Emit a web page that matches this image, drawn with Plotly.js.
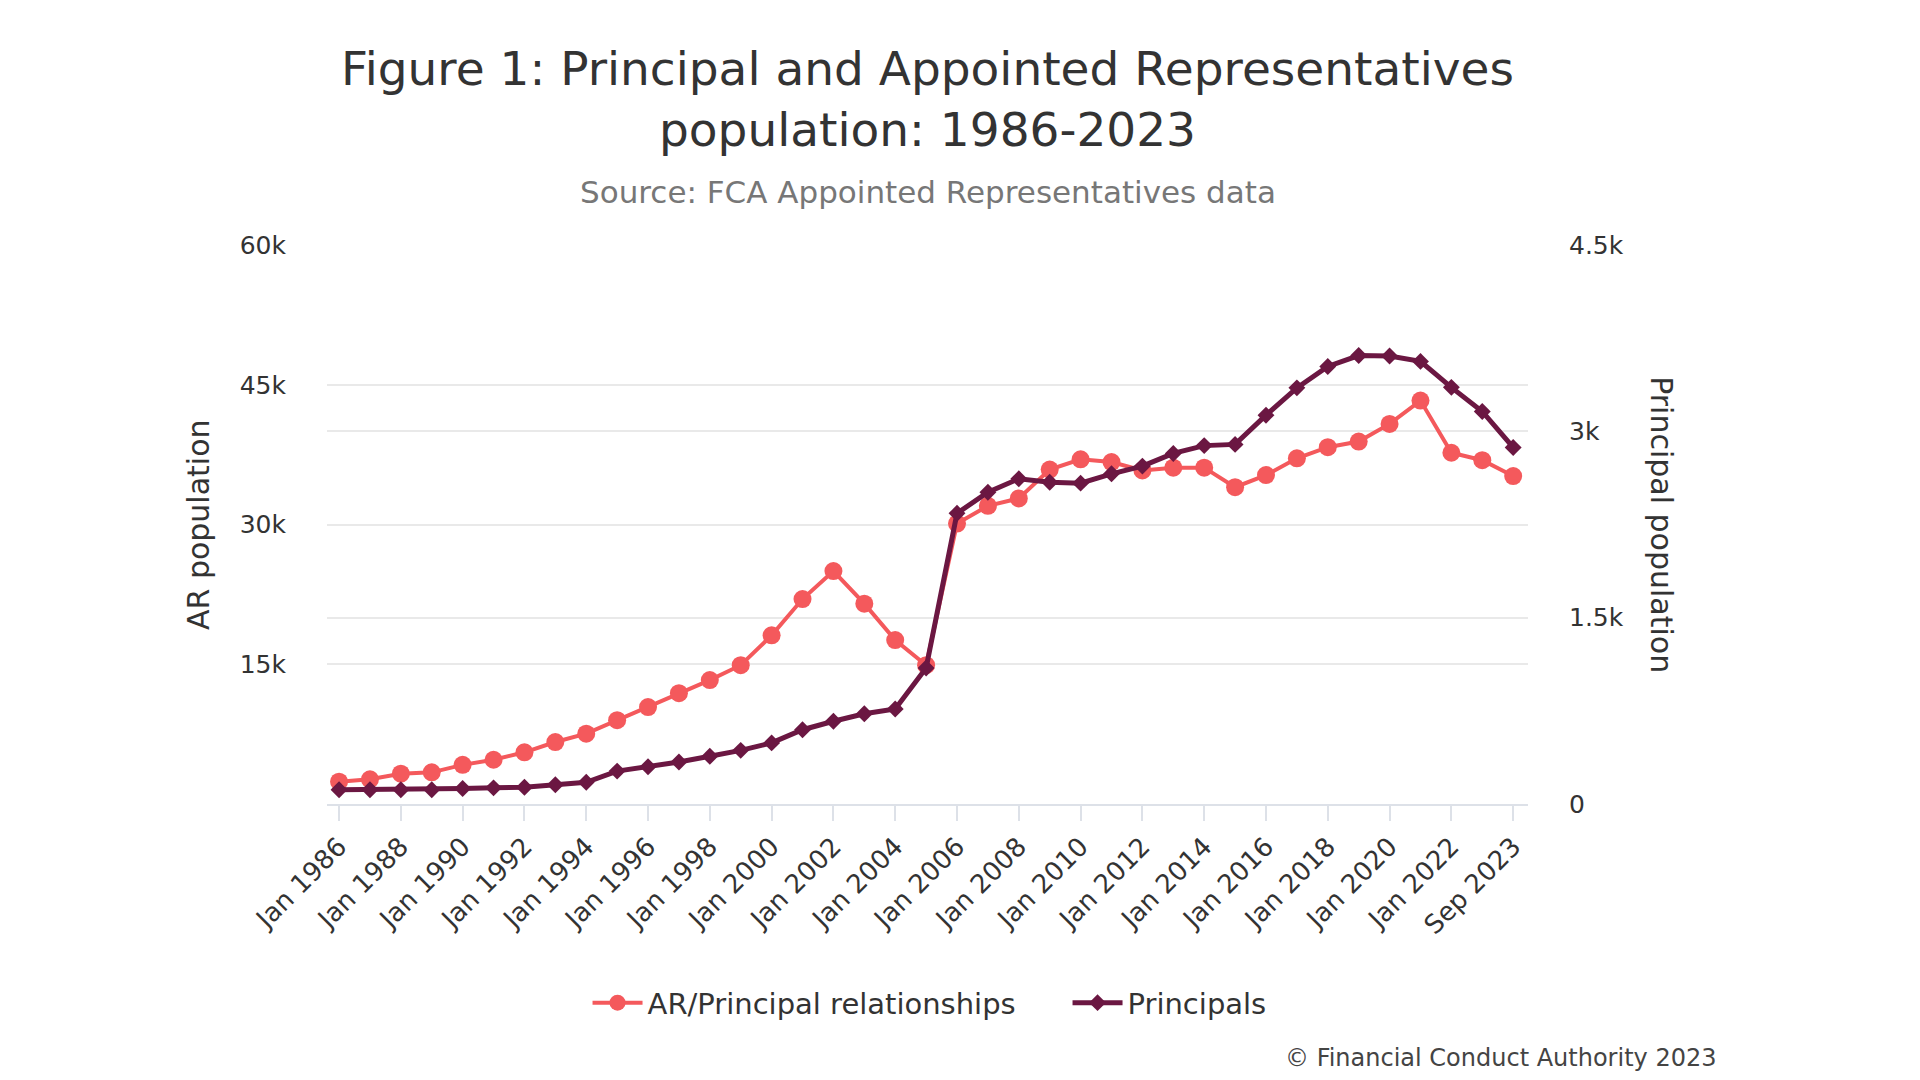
<!DOCTYPE html>
<html>
<head>
<meta charset="utf-8">
<script src="https://cdn.plot.ly/plotly-3.0.1.min.js"></script>
<style>
  html, body { margin: 0; padding: 0; background: #fff; }
  #chart { width: 1920px; height: 1080px; }
</style>
</head>
<body>
<div id="chart"></div>
<script>
var months = ['Jan 1986', 'Jan 1987', 'Jan 1988', 'Jan 1989', 'Jan 1990', 'Jan 1991', 'Jan 1992',
  'Jan 1993', 'Jan 1994', 'Jan 1995', 'Jan 1996', 'Jan 1997', 'Jan 1998', 'Jan 1999', 'Jan 2000',
  'Jan 2001', 'Jan 2002', 'Jan 2003', 'Jan 2004', 'Jan 2005', 'Jan 2006', 'Jan 2007', 'Jan 2008',
  'Jan 2009', 'Jan 2010', 'Jan 2011', 'Jan 2012', 'Jan 2013', 'Jan 2014', 'Jan 2015', 'Jan 2016',
  'Jan 2017', 'Jan 2018', 'Jan 2019', 'Jan 2020', 'Jan 2021', 'Jan 2022', 'Jan 2023', 'Sep 2023'];

// AR/Principal relationships (left axis)
var arRelationships = [2400, 2650, 3250, 3400, 4200, 4750, 5550, 6650, 7550, 9000,
  10400, 11900, 13300, 14900, 18100, 22000, 25000, 21500, 17600, 14900,
  30100, 32000, 32800, 35900, 37000, 36700, 35800, 36100, 36100, 34000,
  35300, 37100, 38300, 38900, 40800, 43300, 37700, 36900, 35200];

// Principals (right axis)
var principals = [115, 115, 115, 115, 125, 130, 135, 155, 175, 265,
  300, 338, 384, 432, 492, 598, 666, 726, 765, 1095,
  2340, 2510, 2618, 2590, 2583, 2658, 2720, 2822, 2885, 2895,
  3130, 3350, 3522, 3610, 3606, 3563, 3354, 3160, 2870];

var xTicks = ['Jan 1986', 'Jan 1988', 'Jan 1990', 'Jan 1992', 'Jan 1994', 'Jan 1996', 'Jan 1998',
  'Jan 2000', 'Jan 2002', 'Jan 2004', 'Jan 2006', 'Jan 2008', 'Jan 2010', 'Jan 2012', 'Jan 2014',
  'Jan 2016', 'Jan 2018', 'Jan 2020', 'Jan 2022', 'Sep 2023'];
var arTicks = [15000, 30000, 45000, 60000];
var arTickText = ['15k', '30k', '45k', '60k'];
var prTicks = [0, 1500, 3000, 4500];
var prTickText = ['0', '1.5k', '3k', '4.5k'];

var FONT = 'DejaVu Sans, Verdana, sans-serif';
var RED = '#F4595C';
var PLUM = '#6B1742';
var GRID = '#e9e9e9';

var data = [
  {
    x: months,
    y: arRelationships,
    name: 'AR/Principal relationships',
    type: 'scatter',
    mode: 'lines+markers',
    line: {color: RED, width: 4},
    marker: {color: RED, size: 18, symbol: 'circle'},
    yaxis: 'y'
  },
  {
    x: months,
    y: principals,
    name: 'Principals',
    type: 'scatter',
    mode: 'lines+markers',
    line: {color: PLUM, width: 5},
    marker: {color: PLUM, size: 13, symbol: 'diamond'},
    yaxis: 'y2'
  }
];

var layout = {
  width: 1920,
  height: 1080,
  paper_bgcolor: '#fff',
  plot_bgcolor: '#fff',
  font: {family: FONT, color: '#333'},
  showlegend: true,
  margin: {l: 327, r: 392, t: 245, b: 276, pad: 0},
  title: {
    text: 'Figure 1: Principal and Appointed Representatives<br>population: 1986-2023',
    font: {family: FONT, size: 47, color: '#333'},
    xref: 'paper',
    x: 0.5,
    xanchor: 'center',
    yref: 'container',
    y: 0.921,
    yanchor: 'middle'
  },
  xaxis: {
    type: 'category',
    range: [-0.39, 38.48],
    tickmode: 'array',
    tickvals: xTicks,
    ticktext: xTicks,
    tickangle: -45,
    ticks: 'outside',
    ticklen: 15,
    tickwidth: 2,
    tickcolor: '#dde1e8',
    showline: true,
    linecolor: '#dde1e8',
    linewidth: 2,
    showgrid: false,
    zeroline: false,
    tickfont: {family: FONT, size: 26, color: '#333'},
    automargin: false
  },
  yaxis: {
    range: [0, 60000],
    tickmode: 'array',
    tickvals: arTicks,
    ticktext: arTickText,
    showgrid: true,
    gridcolor: GRID,
    gridwidth: 2,
    zeroline: false,
    showline: false,
    ticklabelstandoff: 40,
    tickfont: {family: FONT, size: 25, color: '#333'},
    automargin: false
  },
  yaxis2: {
    overlaying: 'y',
    side: 'right',
    range: [0, 4500],
    tickmode: 'array',
    tickvals: prTicks,
    ticktext: prTickText,
    showgrid: true,
    gridcolor: GRID,
    gridwidth: 2,
    zeroline: false,
    showline: false,
    ticklabelstandoff: 40,
    tickfont: {family: FONT, size: 25, color: '#333'},
    automargin: false
  },
  legend: {
    orientation: 'h',
    xref: 'paper',
    x: 0.6166,
    xanchor: 'center',
    yref: 'paper',
    y: -0.3556,
    yanchor: 'middle',
    entrywidth: 415,
    entrywidthmode: 'pixels',
    itemwidth: 50,
    font: {family: FONT, size: 29, color: '#333'},
    itemsizing: 'trace'
  },
  annotations: [
    {
      text: 'Source: FCA Appointed Representatives data',
      xref: 'paper', yref: 'paper',
      x: 0.5, y: 1.0945,
      xanchor: 'center', yanchor: 'middle',
      showarrow: false,
      font: {family: FONT, size: 31, color: '#777'}
    },
    {
      text: 'AR population',
      xref: 'paper', yref: 'paper',
      x: -0.107, y: 0.5,
      xanchor: 'center', yanchor: 'middle',
      textangle: -90,
      showarrow: false,
      font: {family: FONT, size: 30, color: '#333'}
    },
    {
      text: 'Principal population',
      xref: 'paper', yref: 'paper',
      x: 1.111, y: 0.5,
      xanchor: 'center', yanchor: 'middle',
      textangle: 90,
      showarrow: false,
      font: {family: FONT, size: 30, color: '#333'}
    },
    {
      text: '© Financial Conduct Authority 2023',
      xref: 'paper', yref: 'paper',
      x: 1.158, y: -0.454,
      xanchor: 'right', yanchor: 'middle',
      showarrow: false,
      font: {family: FONT, size: 24, color: '#444'}
    }
  ]
};

Plotly.newPlot('chart', data, layout, {staticPlot: true, displayModeBar: false});
</script>
</body>
</html>
